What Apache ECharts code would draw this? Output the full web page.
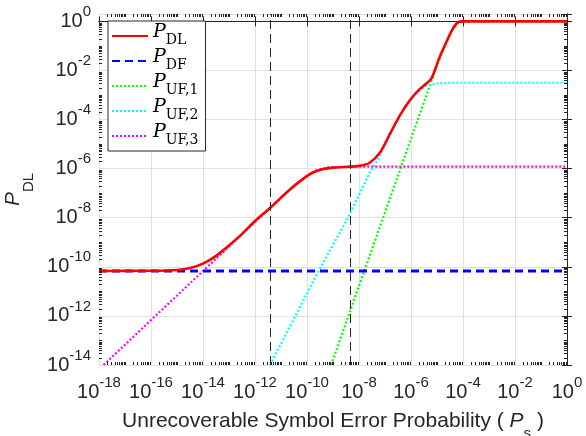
<!DOCTYPE html>
<html>
<head>
<meta charset="utf-8">
<script src="https://cdn.jsdelivr.net/npm/echarts@6/dist/echarts.min.js"></script>
<style>
html, body { margin: 0; padding: 0; background: #fff; }
#charts { width: 586px; height: 436px; }
</style>
</head>
<body>
<div id="charts"></div>
<script>
// axis ranges (real values, both axes logarithmic)
var psRange = [1e-18, 1];
var pRange = [1e-14, 2];
var tickStep = 2; // decades between labels
// vertical dashed markers
var markerPs = [3.8e-12, 4.8e-9];

// P_DL
var dlPs = [1e-18, 1e-16, 1e-15, 3.2e-15, 1e-14, 3.2e-14, 1e-13, 3.2e-13, 1e-12, 3.8e-12, 1e-11, 2.5e-11, 6.3e-11, 1.6e-10, 4e-10, 1e-9, 3.2e-9, 1e-8, 2.5e-8, 6.3e-8, 1.6e-7, 4e-7, 8.9e-7, 2.1e-6, 4e-6, 6.3e-6, 1.26e-5, 2.3e-5, 4e-5, 6.3e-5, 1e-4, 1];
var dlP = [6.8e-11, 6.9e-11, 7.4e-11, 8.9e-11, 1.35e-10, 2.8e-10, 7.4e-10, 2.2e-9, 7.4e-9, 2.5e-8, 6.6e-8, 1.6e-7, 3.5e-7, 6.8e-7, 9.5e-7, 1.1e-6, 1.17e-6, 1.3e-6, 1.7e-6, 4.4e-6, 2.8e-5, 1.66e-4, 6.0e-4, 1.7e-3, 3.0e-3, 5.0e-3, 3.5e-2, 0.145, 0.48, 0.91, 1, 1];
// P_DF
var dfPs = [1e-18, 1];
var dfP = [6.8e-11, 6.8e-11];
// P_UF,1
var uf1Ps = [8.5e-10, 1.6e-8, 2.7e-7, 9.3e-6, 2.3e-5, 4.1e-5, 6.5e-5, 1e-4, 1];
var uf1P = [1e-14, 6.8e-11, 3.2e-7, 1.3e-2, 0.145, 0.48, 0.89, 1, 1];
// P_UF,2
var uf2Ps = [3.8e-12, 2.8e-10, 3.7e-9, 2.5e-8, 6.2e-8, 3.6e-7, 1.4e-6, 3.9e-6, 1e-5, 3.2e-5, 1];
var uf2P = [1e-14, 6.8e-11, 9.5e-9, 6.3e-7, 3.2e-6, 1.4e-4, 1.05e-3, 2.4e-3, 3.0e-3, 3.16e-3, 3.16e-3];
// P_UF,3
var uf3Ps = [1.5e-18, 1e-12, 3.2e-11, 1e-10, 2.5e-10, 6.3e-10, 3.2e-9, 1];
var uf3P = [1e-14, 6.8e-9, 2e-7, 5e-7, 8.9e-7, 1.12e-6, 1.2e-6, 1.2e-6];

var seriesNames = ['P_DL', 'P_DF', 'P_UF,1', 'P_UF,2', 'P_UF,3'];

var dom = document.getElementById('charts');
var myChart = echarts.init(dom);

var xMin = Math.log10(psRange[0]), xMax = Math.log10(psRange[1]);
var yMin = Math.log10(pRange[0]), yMax = Math.log10(pRange[1]);
var axisColor = '#262626';

function toLog(xs, ys) {
    return xs.map(function(x, i) {
        return [Math.log10(x), Math.log10(ys[i])];
    });
}

// 10^n label with superscript
function powLabel(v) {
    if (Math.abs(v - Math.round(v)) > 1e-6) return '';
    return '{b|10}{e|' + Math.round(v) + '}';
}
var labelRich = {
    b: { fontSize: 20, fontFamily: 'Liberation Sans', color: axisColor },
    e: { fontSize: 15, fontFamily: 'Liberation Sans', color: axisColor, padding: [0, 0, 19, 0] }
};

// minor ticks (2..9 of each decade, plus unlabelled decades)
var minorX = [], minorY = [];
for (var d = xMin; d < xMax; d++) {
    for (var m = 1; m < 10; m++) {
        if (m === 1 && d % tickStep === 0) continue;
        minorX.push([d + Math.log10(m), yMin]);
    }
}
for (var d = yMin; d <= 0; d++) {
    for (var m = 1; m < 10; m++) {
        var v = d + Math.log10(m);
        if (v >= yMax - 1e-9) break;
        if (m === 1 && d % tickStep === 0) continue;
        minorY.push([xMin, v]);
    }
}

function tickLine(x1, y1, x2, y2) {
    return { type: 'line', shape: { x1: x1, y1: y1, x2: x2, y2: y2 }, style: { stroke: axisColor, lineWidth: 1 } };
}
function renderMinorX(params, api) {
    var cs = params.coordSys;
    var x = Math.round(api.coord([api.value(0), yMin])[0]) + 0.5;
    var b = cs.y + cs.height, t = cs.y;
    return { type: 'group', children: [tickLine(x, b, x, b - 3), tickLine(x, t, x, t + 3)] };
}
function renderMinorY(params, api) {
    var cs = params.coordSys;
    var y = Math.round(api.coord([xMin, api.value(1)])[1]) + 0.5;
    var l = cs.x, r = cs.x + cs.width;
    return { type: 'group', children: [tickLine(l, y, l + 3, y), tickLine(r, y, r - 3, y)] };
}

var legendRich = {
    p: { fontSize: 19, fontStyle: 'italic', fontFamily: 'DejaVu Serif', color: '#000', padding: [0, 0, 7, 0] },
    s: { fontSize: 14, fontFamily: 'DejaVu Serif', color: '#000', padding: [8, 0, 0, 0] }
};

var option = {
    animation: false,
    backgroundColor: '#fff',
    grid: { left: 99, right: 19, top: 14, bottom: 71, outerBoundsMode: 'none' },
    legend: {
        data: seriesNames,
        orient: 'vertical',
        left: 108,
        top: 21,
        padding: [2, 7, 4, 3],
        itemGap: 1,
        itemWidth: 36,
        itemHeight: 14,
        borderColor: axisColor,
        borderWidth: 1,
        backgroundColor: '#fff',
        borderRadius: 0,
        itemStyle: { opacity: 0 },
        formatter: function(name) {
            return '{p|P}{s|' + name.split('_')[1] + '}';
        },
        textStyle: { rich: legendRich }
    },
    xAxis: [{
        type: 'value', min: xMin, max: xMax, interval: tickStep, position: 'bottom',
        axisLine: { lineStyle: { color: axisColor, width: 1 } },
        axisTick: { inside: true, length: 5, lineStyle: { color: axisColor } },
        axisLabel: { formatter: powLabel, rich: labelRich, margin: 10 },
        splitLine: { show: true, lineStyle: { color: '#e2e2e2', width: 1 } },
        name: '{t|Unrecoverable Symbol Error Probability ( }{i|P}{s|s}{t| )}',
        nameLocation: 'middle',
        nameGap: 37,
        nameTextStyle: {
            rich: {
                t: { fontSize: 21, fontFamily: 'Liberation Sans', color: axisColor },
                i: { fontSize: 21, fontFamily: 'Liberation Sans', fontStyle: 'italic', color: axisColor },
                s: { fontSize: 15, fontFamily: 'Liberation Sans', color: axisColor, padding: [24, 0, 0, 0] }
            }
        }
    }, {
        type: 'value', min: xMin, max: xMax, interval: tickStep, position: 'top',
        axisLine: { lineStyle: { color: axisColor, width: 1 } },
        axisTick: { inside: true, length: 5, lineStyle: { color: axisColor } },
        axisLabel: { show: false },
        splitLine: { show: false }
    }],
    yAxis: [{
        type: 'value', min: yMin, max: yMax, interval: tickStep, position: 'left',
        axisLine: { lineStyle: { color: axisColor, width: 1 } },
        axisTick: { inside: true, length: 5, lineStyle: { color: axisColor } },
        axisLabel: { formatter: powLabel, rich: labelRich, margin: 8 },
        splitLine: { show: true, lineStyle: { color: '#e2e2e2', width: 1 } },
        name: '{i|P}{s|DL}',
        nameLocation: 'middle',
        nameRotate: 90,
        nameGap: 58,
        nameTextStyle: {
            rich: {
                i: { fontSize: 21, fontFamily: 'Liberation Sans', fontStyle: 'italic', color: axisColor },
                s: { fontSize: 15, fontFamily: 'Liberation Sans', color: axisColor, padding: [32, 0, 0, 0] }
            }
        }
    }, {
        type: 'value', min: yMin, max: yMax, interval: tickStep, position: 'right',
        axisLine: { lineStyle: { color: axisColor, width: 1 } },
        axisTick: { inside: true, length: 5, lineStyle: { color: axisColor } },
        axisLabel: { show: false },
        splitLine: { show: false }
    }],
    series: [{
        name: 'P_UF,1', type: 'line', showSymbol: false, symbol: 'none',
        data: toLog(uf1Ps, uf1P),
        lineStyle: { color: '#00ff00', width: 2.2, type: [2, 2] },
        itemStyle: { color: '#00ff00' }
    }, {
        name: 'P_UF,2', type: 'line', showSymbol: false, symbol: 'none',
        data: toLog(uf2Ps, uf2P),
        lineStyle: { color: '#00ffff', width: 2.2, type: [2, 2] },
        itemStyle: { color: '#00ffff' }
    }, {
        name: 'P_UF,3', type: 'line', showSymbol: false, symbol: 'none',
        data: toLog(uf3Ps, uf3P),
        lineStyle: { color: '#ff00ff', width: 2.2, type: [2, 2] },
        itemStyle: { color: '#ff00ff' }
    }, {
        name: 'P_DF', type: 'line', showSymbol: false, symbol: 'none',
        data: toLog(dfPs, dfP),
        lineStyle: { color: '#0000ff', width: 3, type: [8, 5] },
        itemStyle: { color: '#0000ff' },
        markLine: {
            silent: true,
            symbol: ['none', 'none'],
            label: { show: false },
            lineStyle: { color: '#222', width: 1, type: [9, 5] },
            data: markerPs.map(function(p) { return { xAxis: Math.log10(p) }; })
        }
    }, {
        name: 'P_DL', type: 'line', showSymbol: false, symbol: 'none', smooth: 0.3,
        data: toLog(dlPs, dlP),
        lineStyle: { color: '#ff0000', width: 2.6 },
        itemStyle: { color: '#ff0000' }
    }, {
        type: 'custom', silent: true, clip: false, z: 5,
        renderItem: renderMinorX, data: minorX
    }, {
        type: 'custom', silent: true, clip: false, z: 5,
        renderItem: renderMinorY, data: minorY
    }]
};
myChart.setOption(option, true);
</script>
</body>
</html>
